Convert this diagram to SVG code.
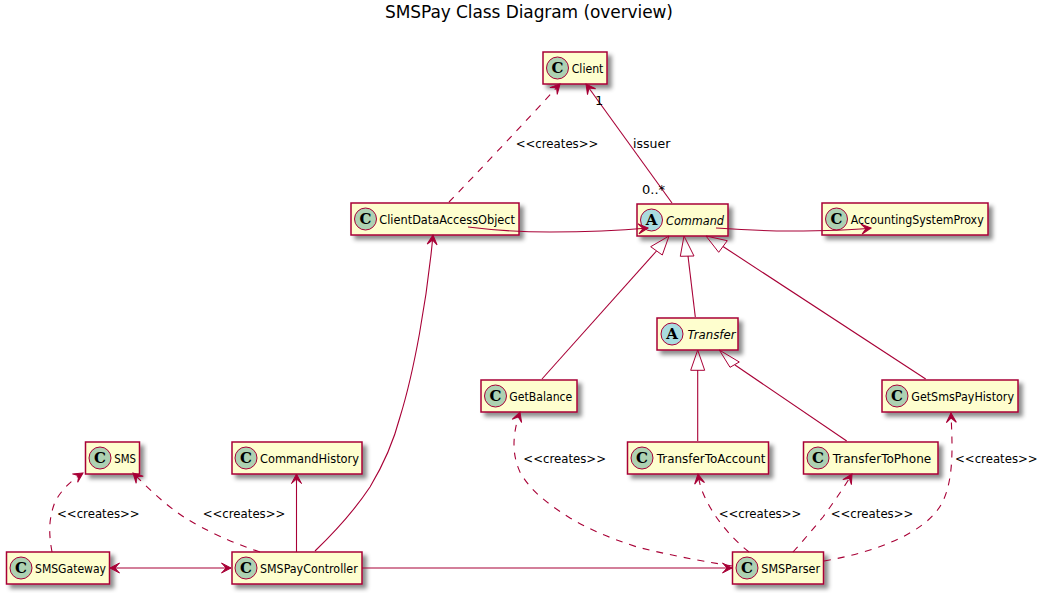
<svg xmlns="http://www.w3.org/2000/svg" width="1058" height="593" viewBox="0 0 1058 593">
<style>
text{font-family:"DejaVu Sans","Liberation Sans",sans-serif;font-size:13px;fill:#000}
.title{font-size:17px}
.box{fill:#FEFECE;stroke:#A80036;stroke-width:1.5;filter:url(#sh)}
.c{fill:#ADD1B2;stroke:#A80036;stroke-width:1}
.a{fill:#A9DCDF;stroke:#A80036;stroke-width:1}
.sp{font-family:"DejaVu Serif","Liberation Serif",serif;font-weight:bold;font-size:15px;text-anchor:middle}
.it{font-style:italic}
.e{fill:none;stroke:#A80036;stroke-width:1.1}
.ar{marker-end:url(#ah)}
.d{stroke-dasharray:7,7}
.tri{fill:none;stroke:#A80036;stroke-width:1}
</style>
<defs>
<filter id="sh" x="-10%" y="-20%" width="125%" height="150%"><feDropShadow dx="4" dy="4" stdDeviation="2" flood-color="#000" flood-opacity="0.45"/></filter>
<marker id="ah" markerUnits="userSpaceOnUse" markerWidth="14" markerHeight="14" refX="11" refY="7" orient="auto"><path d="M11,7 L1.5,2 L6,7 L1.5,12 Z" fill="#A80036" stroke="#A80036"/></marker>
<marker id="as" markerUnits="userSpaceOnUse" markerWidth="14" markerHeight="14" refX="11" refY="7" orient="auto-start-reverse"><path d="M11,7 L1.5,2 L6,7 L1.5,12 Z" fill="#A80036" stroke="#A80036"/></marker>
</defs>
<text class="title" x="385" y="18" textLength="288">SMSPay Class Diagram (overview)</text>

<g id="Client"><rect class="box" x="543" y="52" width="64" height="32"/><circle class="c" cx="557.5" cy="68" r="11"/><text class="sp" x="557.5" y="73">C</text><text x="571.7" y="73" textLength="31.7" lengthAdjust="spacingAndGlyphs">Client</text></g>
<g id="ClientDataAccessObject"><rect class="box" x="351" y="203" width="168" height="32"/><circle class="c" cx="365.5" cy="219" r="11"/><text class="sp" x="365.5" y="224">C</text><text x="379.3" y="224" textLength="135.7" lengthAdjust="spacingAndGlyphs">ClientDataAccessObject</text></g>
<g id="Command"><rect class="box" x="637" y="204" width="91" height="32"/><circle class="a" cx="651.5" cy="220" r="11"/><text class="sp" x="651.5" y="225">A</text><text class="it" x="666" y="225" textLength="58" lengthAdjust="spacingAndGlyphs">Command</text></g>
<g id="AccountingSystemProxy"><rect class="box" x="822" y="203" width="166" height="32"/><circle class="c" cx="836.5" cy="219" r="11"/><text class="sp" x="836.5" y="224">C</text><text x="850.7" y="224" textLength="133" lengthAdjust="spacingAndGlyphs">AccountingSystemProxy</text></g>
<g id="Transfer"><rect class="box" x="657" y="318" width="81" height="32"/><circle class="a" cx="672" cy="334" r="11"/><text class="sp" x="672" y="339">A</text><text class="it" x="687.5" y="339" textLength="48" lengthAdjust="spacingAndGlyphs">Transfer</text></g>
<g id="GetBalance"><rect class="box" x="481" y="380" width="96" height="32"/><circle class="c" cx="495.5" cy="396" r="11"/><text class="sp" x="495.5" y="401">C</text><text x="509.3" y="401" textLength="63" lengthAdjust="spacingAndGlyphs">GetBalance</text></g>
<g id="GetSmsPayHistory"><rect class="box" x="882" y="380" width="136" height="32"/><circle class="c" cx="897" cy="396" r="11"/><text class="sp" x="897" y="401">C</text><text x="911.3" y="401" textLength="102.7" lengthAdjust="spacingAndGlyphs">GetSmsPayHistory</text></g>
<g id="TransferToAccount"><rect class="box" x="627.5" y="442" width="141" height="32"/><circle class="c" cx="642" cy="458" r="11"/><text class="sp" x="642" y="463">C</text><text x="656.7" y="463" textLength="108.7" lengthAdjust="spacingAndGlyphs">TransferToAccount</text></g>
<g id="TransferToPhone"><rect class="box" x="803.5" y="442" width="134.5" height="32"/><circle class="c" cx="818" cy="458" r="11"/><text class="sp" x="818" y="463">C</text><text x="832.7" y="463" textLength="98.5" lengthAdjust="spacingAndGlyphs">TransferToPhone</text></g>
<g id="SMS"><rect class="box" x="85.5" y="442" width="54" height="32"/><circle class="c" cx="100" cy="458" r="11"/><text class="sp" x="100" y="463">C</text><text x="114.3" y="463" textLength="21.7" lengthAdjust="spacingAndGlyphs">SMS</text></g>
<g id="CommandHistory"><rect class="box" x="232" y="442" width="130" height="32"/><circle class="c" cx="246" cy="458" r="11"/><text class="sp" x="246" y="463">C</text><text x="260" y="463" textLength="99" lengthAdjust="spacingAndGlyphs">CommandHistory</text></g>
<g id="SMSGateway"><rect class="box" x="6.5" y="552" width="103" height="32"/><circle class="c" cx="21" cy="568" r="11"/><text class="sp" x="21" y="573">C</text><text x="35" y="573" textLength="71" lengthAdjust="spacingAndGlyphs">SMSGateway</text></g>
<g id="SMSPayController"><rect class="box" x="232" y="552" width="130" height="32"/><circle class="c" cx="246" cy="568" r="11"/><text class="sp" x="246" y="573">C</text><text x="260" y="573" textLength="97.7" lengthAdjust="spacingAndGlyphs">SMSPayController</text></g>
<g id="SMSParser"><rect class="box" x="732.5" y="552" width="91" height="32"/><circle class="c" cx="747" cy="568" r="11"/><text class="sp" x="747" y="573">C</text><text x="761.3" y="573" textLength="58.7" lengthAdjust="spacingAndGlyphs">SMSParser</text></g>

<g id="connectors">
<path class="e ar d" d="M449,202 C480,170 525,122 560,84"/>
<path class="e ar" d="M672,203 L586,84"/>
<path class="e ar" d="M468,227 C500,231 520,232 550,232 C585,232 615,231 648,228"/>
<path class="e ar" d="M716,228 C745,230 760,231 790,231 C820,231 845,231 871,228"/>
<path class="e" d="M656.5,251 L542,379"/><polygon class="tri" points="669,236 650.7,246.7 662.3,255"/>
<path class="e" d="M688,256 L695.3,317"/><polygon class="tri" points="684,236 680.3,256.3 694,256"/>
<path class="e" d="M723,246.5 L925.7,379"/><polygon class="tri" points="706,236 727.3,240.7 718.7,252.3"/>
<path class="e" d="M697.7,370 L697.7,441"/><polygon class="tri" points="697.7,350 690.7,370.3 704.7,370.3"/>
<path class="e" d="M735,365 L846.7,441"/><polygon class="tri" points="719.3,350 739.3,362 730,367.3"/>
<path class="e ar d" d="M732,566 C695,560 665,554 637,547 C610,538 590,530 570,518 C545,502 530,490 520,472 C512,455 512,435 520,412"/>
<path class="e ar d" d="M749,552 C730,537 712,515 703,493 C700,486 699,480 698,474"/>
<path class="e ar d" d="M793,552 C803,541 813,529 823,517 C833,503 843,489 852,474"/>
<path class="e ar d" d="M824,561 C870,553 925,535 942,503 C955,478 952,440 951,413"/>
<path class="e ar d" d="M52,552 C49,535 48,520 55,502 C61,490 72,480 83,473"/>
<path class="e ar d" d="M260,552 C230,542 205,530 187,519 C165,505 148,488 133,473"/>
<path class="e ar" d="M296.5,552 L296.5,474"/>
<path class="e ar" d="M315,551 C340,527 358,505 370,487 C385,462 394,440 400,417 C414,372 427,300 433,235"/>
<path class="e ar" d="M110,568 L231,568" style="marker-start:url(#as)"/>
<path class="e ar" d="M362,568 L732,568"/>
</g>
<g id="labels">
<text x="515.7" y="148" textLength="82.7" lengthAdjust="spacingAndGlyphs">&lt;&lt;creates&gt;&gt;</text>
<text x="633" y="148" textLength="37.3" lengthAdjust="spacingAndGlyphs">issuer</text>
<text x="595" y="105">1</text>
<text x="642" y="194">0..*</text>
<text x="57" y="518" textLength="82.7" lengthAdjust="spacingAndGlyphs">&lt;&lt;creates&gt;&gt;</text>
<text x="202.7" y="518" textLength="82.7" lengthAdjust="spacingAndGlyphs">&lt;&lt;creates&gt;&gt;</text>
<text x="523.3" y="463" textLength="82.7" lengthAdjust="spacingAndGlyphs">&lt;&lt;creates&gt;&gt;</text>
<text x="718.7" y="518" textLength="82.7" lengthAdjust="spacingAndGlyphs">&lt;&lt;creates&gt;&gt;</text>
<text x="830.7" y="518" textLength="82.7" lengthAdjust="spacingAndGlyphs">&lt;&lt;creates&gt;&gt;</text>
<text x="955" y="463" textLength="82.7" lengthAdjust="spacingAndGlyphs">&lt;&lt;creates&gt;&gt;</text>
</g>
</svg>
